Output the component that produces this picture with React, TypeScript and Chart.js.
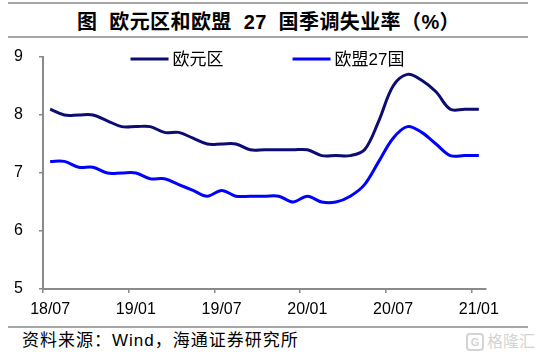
import React, { useEffect, useRef } from 'react';
import { Chart, registerables } from 'chart.js';

Chart.register(...registerables);

const categories = [
  '18/07', '18/08', '18/09', '18/10', '18/11', '18/12',
  '19/01', '19/02', '19/03', '19/04', '19/05', '19/06',
  '19/07', '19/08', '19/09', '19/10', '19/11', '19/12',
  '20/01', '20/02', '20/03', '20/04', '20/05', '20/06',
  '20/07', '20/08', '20/09', '20/10', '20/11', '20/12',
  '21/01',
];
const euroArea = [
  8.1, 8.0, 8.0, 8.0, 7.9, 7.8, 7.8, 7.8, 7.7, 7.7, 7.6, 7.5, 7.5, 7.5, 7.4, 7.4,
  7.4, 7.4, 7.4, 7.3, 7.3, 7.3, 7.4, 7.9, 8.5, 8.7, 8.6, 8.4, 8.1, 8.1, 8.1,
];
const eu27 = [
  7.2, 7.2, 7.1, 7.1, 7.0, 7.0, 7.0, 6.9, 6.9, 6.8, 6.7, 6.6, 6.7, 6.6, 6.6, 6.6,
  6.6, 6.5, 6.6, 6.5, 6.5, 6.6, 6.8, 7.2, 7.6, 7.8, 7.7, 7.5, 7.3, 7.3, 7.3,
];
const seriesNames = ['欧元区', '欧盟27国'];
const seriesColors = ['#0c0c72', '#0000ff'];
const yMin = 5;
const yMax = 9;
const labelEvery = 6;

const AXIS_GRAY = '#8a8a8a';
const LINE_GRAY = '#a6a6a6';

const legendPlugin = {
  id: 'insideTopLegend',
  afterDraw(chart: any) {
    const { ctx, chartArea } = chart;
    const lineLen = 38;
    const textGap = 4;
    const itemGap = 69;
    ctx.save();
    ctx.font = '17px "Liberation Sans", "Noto Sans CJK SC", sans-serif';
    const items = chart.data.datasets.map((ds: any) => ({
      label: ds.label as string,
      color: ds.borderColor as string,
      w: lineLen + textGap + ctx.measureText(ds.label).width,
    }));
    const total = items.reduce((s: number, it: any) => s + it.w, 0) + itemGap * (items.length - 1);
    let x = (chartArea.left + chartArea.right) / 2 + 3 - total / 2;
    const y = chartArea.top + 2;
    items.forEach((it: any) => {
      ctx.strokeStyle = it.color;
      ctx.lineWidth = 3;
      ctx.beginPath();
      ctx.moveTo(x, y);
      ctx.lineTo(x + lineLen, y);
      ctx.stroke();
      ctx.fillStyle = '#000';
      ctx.textBaseline = 'middle';
      ctx.textAlign = 'left';
      ctx.fillText(it.label, x + lineLen + textGap, y + 1);
      x += it.w + itemGap;
    });
    ctx.restore();
  },
};

function UnemploymentChart() {
  const ref = useRef<HTMLCanvasElement | null>(null);
  useEffect(() => {
    if (!ref.current) return;
    const chart = new Chart(ref.current, {
      type: 'line',
      data: {
        labels: categories,
        datasets: [
          {
            label: seriesNames[0],
            data: euroArea,
            borderColor: seriesColors[0],
            backgroundColor: seriesColors[0],
            borderWidth: 3,
            pointRadius: 0,
            tension: 0.35,
            fill: false,
          },
          {
            label: seriesNames[1],
            data: eu27,
            borderColor: seriesColors[1],
            backgroundColor: seriesColors[1],
            borderWidth: 3,
            pointRadius: 0,
            tension: 0.35,
            fill: false,
          },
        ],
      },
      options: {
        animation: false,
        responsive: false,
        layout: { padding: { top: 17, right: 53, left: 14, bottom: 0 } },
        plugins: {
          legend: { display: false },
          tooltip: { enabled: false },
          title: { display: false },
        },
        scales: {
          x: {
            type: 'category',
            offset: true,
            afterFit: (scale: any) => {
              scale.height = 36;
            },
            grid: {
              display: true,
              offset: true,
              drawOnChartArea: false,
              drawTicks: true,
              tickLength: 4,
              lineWidth: 1.5,
              color: (c: any) =>
                typeof c.index === 'number' && c.index % labelEvery === 0 ? AXIS_GRAY : 'rgba(0,0,0,0)',
            },
            border: { display: true, color: AXIS_GRAY, width: 2 },
            ticks: {
              autoSkip: false,
              maxRotation: 0,
              padding: 7,
              color: '#000',
              font: { family: '"Liberation Sans", Arial, sans-serif', size: 16 },
              callback: function (this: any, value: any, index: number) {
                return index % labelEvery === 0 ? this.getLabelForValue(value) : '';
              },
            },
          },
          y: {
            min: yMin,
            max: yMax,
            afterFit: (scale: any) => {
              scale.width = 29;
            },
            grid: {
              display: true,
              drawOnChartArea: false,
              drawTicks: true,
              tickLength: 4,
              lineWidth: 1.5,
              color: AXIS_GRAY,
            },
            border: { display: true, color: AXIS_GRAY, width: 2 },
            ticks: {
              stepSize: 1,
              padding: 0,
              crossAlign: 'far',
              color: '#000',
              font: { family: '"Liberation Sans", Arial, sans-serif', size: 16 },
            },
          },
        },
      },
      plugins: [legendPlugin],
    });
    return () => chart.destroy();
  }, []);
  return <canvas ref={ref} width={539} height={285} style={{ display: 'block' }} />;
}

export default function App() {
  const cjk = '"Liberation Sans", "Noto Sans CJK SC", sans-serif';
  return (
    <div
      style={{
        position: 'absolute',
        left: 0,
        top: 0,
        width: 539,
        height: 358,
        background: '#fff',
        overflow: 'hidden',
        fontFamily: cjk,
      }}
    >
      <div style={{ position: 'absolute', left: 8, top: 2, width: 520, height: 2, background: LINE_GRAY }} />
      <div
        style={{
          position: 'absolute',
          left: 77,
          top: 11,
          height: 22,
          lineHeight: '22px',
          fontSize: 20,
          fontWeight: 700,
          letterSpacing: 0.4,
          whiteSpace: 'pre',
          color: '#000',
        }}
      >
        {'图  欧元区和欧盟  27  国季调失业率（%）'}
      </div>
      <div style={{ position: 'absolute', left: 8, top: 36, width: 520, height: 2, background: LINE_GRAY }} />
      <div style={{ position: 'absolute', left: 0, top: 40, width: 539, height: 285 }}>
        <UnemploymentChart />
      </div>
      <div style={{ position: 'absolute', left: 8, top: 326, width: 520, height: 2, background: LINE_GRAY }} />
      <div
        style={{
          position: 'absolute',
          left: 22,
          top: 330,
          height: 22,
          lineHeight: '22px',
          fontSize: 17,
          letterSpacing: 1,
          whiteSpace: 'pre',
          color: '#000',
        }}
      >
        {'资料来源：Wind，海通证券研究所'}
      </div>
      <div
        style={{
          position: 'absolute',
          left: 466,
          top: 332,
          width: 72,
          display: 'flex',
          alignItems: 'center',
          whiteSpace: 'nowrap',
          color: '#d4d4d4',
          fontSize: 16,
          lineHeight: '20px',
        }}
      >
        <div
          style={{
            width: 14,
            height: 14,
            flex: 'none',
            border: '2px solid #d4d4d4',
            borderRadius: 4,
            marginRight: 3,
            fontSize: 11,
            lineHeight: '14px',
            textAlign: 'center',
            fontWeight: 700,
          }}
        >
          G
        </div>
        <span>格隆汇</span>
      </div>
    </div>
  );
}
